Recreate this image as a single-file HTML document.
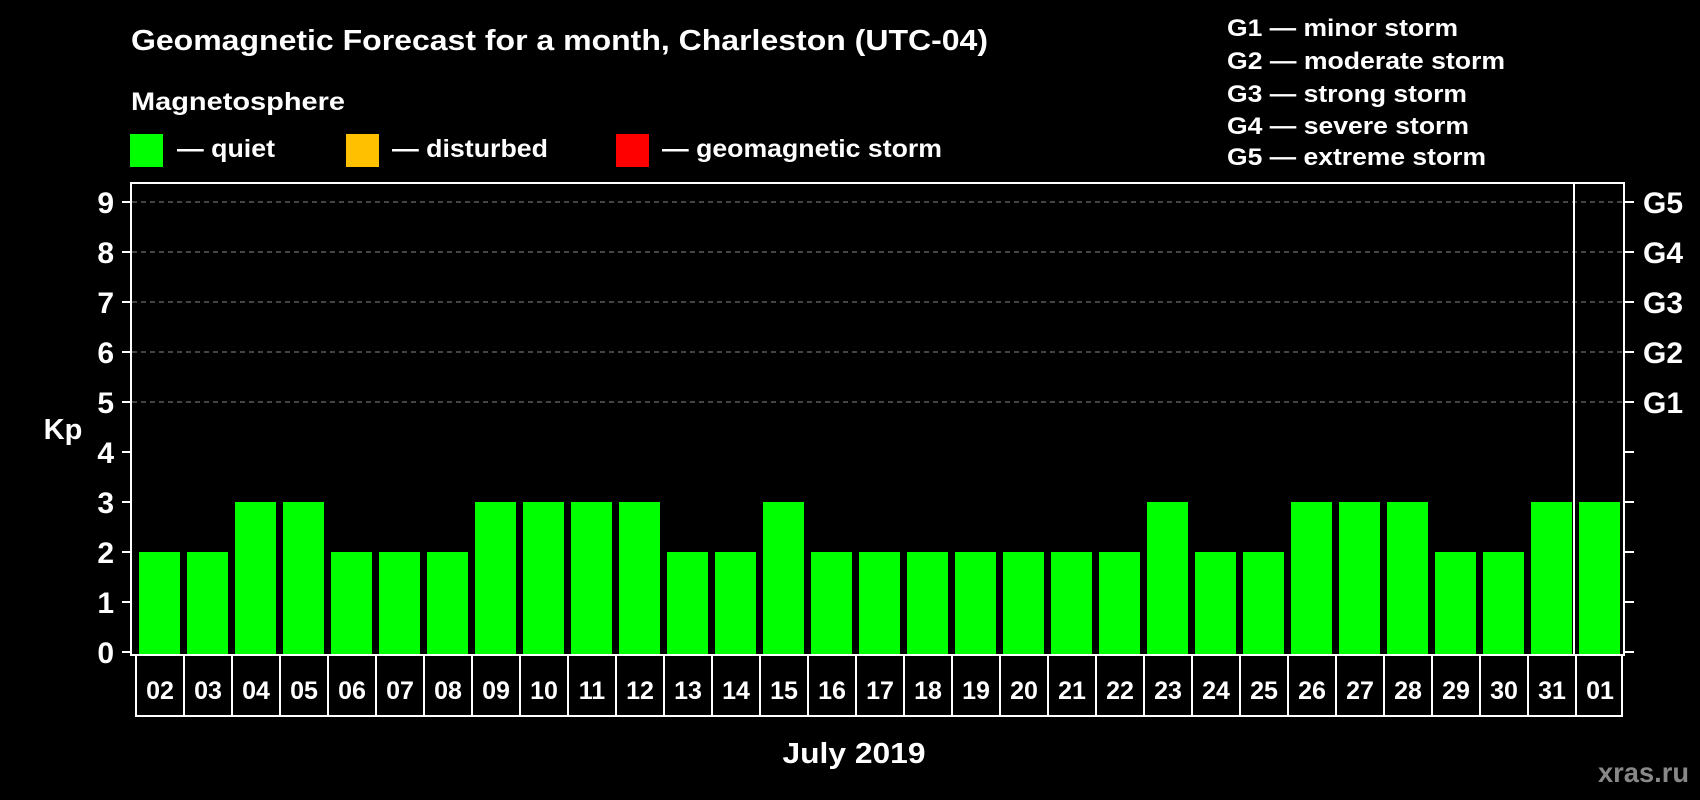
<!DOCTYPE html>
<html><head><meta charset="utf-8"><style>
html,body{margin:0;padding:0;background:#000;}
svg{display:block;font-family:"Liberation Sans",Arial,sans-serif;font-weight:bold;}
</style></head><body>
<svg id="chart" width="1700" height="800" viewBox="0 0 1700 800">
<rect x="0" y="0" width="1700" height="800" fill="#000"/>
<text x="131" y="50" font-size="29" fill="#fff" textLength="857" lengthAdjust="spacingAndGlyphs">Geomagnetic Forecast for a month, Charleston (UTC-04)</text>
<text x="131" y="110" font-size="25" fill="#fff" textLength="214" lengthAdjust="spacingAndGlyphs">Magnetosphere</text>
<g>
<rect x="130" y="134" width="33" height="33" fill="#00ff00"/>
<text x="177" y="157" font-size="25" fill="#fff" textLength="98" lengthAdjust="spacingAndGlyphs">— quiet</text></g>
<g>
<rect x="346" y="134" width="33" height="33" fill="#ffc000"/>
<text x="392" y="157" font-size="25" fill="#fff" textLength="156" lengthAdjust="spacingAndGlyphs">— disturbed</text></g>
<g>
<rect x="616" y="134" width="33" height="33" fill="#ff0000"/>
<text x="662" y="157" font-size="25" fill="#fff" textLength="280" lengthAdjust="spacingAndGlyphs">— geomagnetic storm</text></g>
<g font-size="24" fill="#fff">
<text x="1227" y="36" textLength="231" lengthAdjust="spacingAndGlyphs">G1 — minor storm</text>
<text x="1227" y="69" textLength="278" lengthAdjust="spacingAndGlyphs">G2 — moderate storm</text>
<text x="1227" y="102" textLength="240" lengthAdjust="spacingAndGlyphs">G3 — strong storm</text>
<text x="1227" y="134" textLength="242" lengthAdjust="spacingAndGlyphs">G4 — severe storm</text>
<text x="1227" y="165" textLength="259" lengthAdjust="spacingAndGlyphs">G5 — extreme storm</text>
</g>
<g id="grid"></g>
<g id="bars"></g>
<rect x="131" y="183" width="1493" height="472" fill="none" stroke="#fff" stroke-width="2"/>
<line x1="1574" y1="183" x2="1574" y2="655" stroke="#fff" stroke-width="2"/>
<g id="yaxis"></g>
<g id="xaxis"></g>
<text x="63" y="439" font-size="29" fill="#fff" text-anchor="middle">Kp</text>
<text x="854" y="763" font-size="29" fill="#fff" text-anchor="middle" textLength="143" lengthAdjust="spacingAndGlyphs">July 2019</text>
<text x="1689" y="782" font-size="28" fill="#888" text-anchor="end" textLength="91" lengthAdjust="spacingAndGlyphs">xras.ru</text>
</svg>
<script>
const categories = ["02","03","04","05","06","07","08","09","10","11","12","13","14","15","16","17","18","19","20","21","22","23","24","25","26","27","28","29","30","31","01"];
const kpValues = [2,2,3,3,2,2,2,3,3,3,3,2,2,3,2,2,2,2,2,2,2,3,2,2,3,3,3,2,2,3,3];
const yTicks = [0,1,2,3,4,5,6,7,8,9];
const gLabels = ["G1","G2","G3","G4","G5"];
const gLevels = [5,6,7,8,9];

const NS = "http://www.w3.org/2000/svg";
const y = v => 652 - v * 50;
const slot = 48, x0 = 135;
const x = i => x0 + i * slot;
function mk(tag, attrs, parent) {
  const el = document.createElementNS(NS, tag);
  for (const k in attrs) el.setAttribute(k, attrs[k]);
  parent.appendChild(el);
  return el;
}
const grid = document.getElementById('grid');
gLevels.forEach(v => {
  const l = mk('line', {x1:132, x2:1623, y1:y(v), y2:y(v), stroke:'#888', 'stroke-width':1, 'stroke-dasharray':'5,4'}, grid);
  
  
});
const bars = document.getElementById('bars');
kpValues.forEach((v, i) => {
  const color = v >= 5 ? '#ff0000' : (v >= 4 ? '#ffc000' : '#00ff00');
  const r = mk('rect', {x:x(i)+4, y:y(v), width:41, height:y(0)+2 - y(v) + 0, fill:color}, bars);
  r.setAttribute('height', 654 - y(v));
  
  
});
const ya = document.getElementById('yaxis');
yTicks.forEach(v => {
  const t = mk('line', {x1:122, x2:131, y1:y(v), y2:y(v), stroke:'#fff', 'stroke-width':2}, ya);
  
  
  const t2 = mk('line', {x1:1624, x2:1634, y1:y(v), y2:y(v), stroke:'#fff', 'stroke-width':2}, ya);
  
  
  const lb = mk('text', {x:114, y:y(v)+11, 'font-size':30, fill:'#fff', 'text-anchor':'end'}, ya);
  lb.textContent = v;
  
  
});
gLabels.forEach((g, i) => {
  const lb = mk('text', {x:1643, y:y(gLevels[i])+11, 'font-size':30, fill:'#fff'}, ya);
  lb.textContent = g;
  
  
});
const xa = document.getElementById('xaxis');
const fr = mk('rect', {x:136, y:655, width:1486, height:61, fill:'none', stroke:'#fff', 'stroke-width':2}, xa);


categories.forEach((c, i) => {
  if (i > 0) {
    const d = mk('line', {x1:x(i)+1, x2:x(i)+1, y1:655, y2:716, stroke:'#fff', 'stroke-width':2}, xa);
    
    
  }
  const lb = mk('text', {x:x(i)+25, y:699, 'font-size':25, fill:'#fff', 'text-anchor':'middle'}, xa);
  lb.textContent = c;
  
  
});
</script>
</body></html>
